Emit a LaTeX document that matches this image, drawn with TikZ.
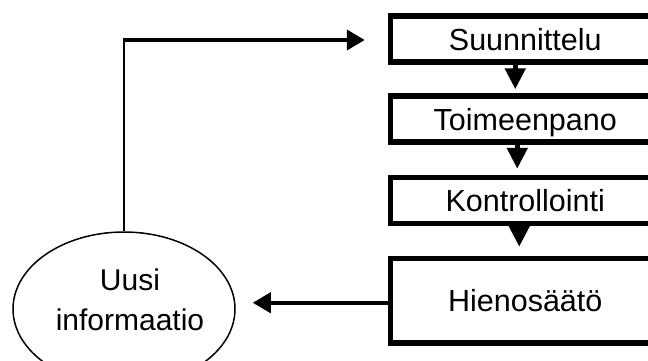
\documentclass[tikz,border=0pt]{standalone}
\usepackage{fontspec}
\setmainfont{Liberation Sans}
\usetikzlibrary{arrows.meta,shapes.geometric,calc}
\begin{document}
\begin{tikzpicture}[x=1pt,y=-1pt,
  stagebox/.style={draw,line width=5.5pt,minimum width=269.5pt,inner sep=0pt,anchor=north west,
    font=\fontsize{30.5}{36}\selectfont,text height=22pt,text depth=-1.5pt},
  downarrow/.style={line width=5pt,-{Triangle[length=21pt,width=20pt]}},
  sidearrow/.style={line width=4pt,-{Triangle[length=18pt,width=20pt]}},
  infoell/.style={draw,ellipse,line width=1.5pt,minimum width=222pt,minimum height=154pt,inner sep=0pt},
  infotext/.style={align=center,inner sep=0pt,anchor=north,font=\fontsize{30}{40}\selectfont}
]
\useasboundingbox (0,0) rectangle (648,360);
\clip (0,0) rectangle (648,360);
\fill[white] (0,0) rectangle (648,360);
% boxes
\node[stagebox,minimum height=46pt] (s1) at (387.75,13.25) {Suunnittelu};
\node[stagebox,minimum height=46pt] (s2) at (387.75,93.25) {Toimeenpano};
\node[stagebox,minimum height=46pt] (s3) at (387.75,174.75) {Kontrollointi};
\node[stagebox,minimum height=84.5pt] (s4) at (387.75,255.75) {Hienosäätö};
% ellipse
\node[infoell] (u) at (124,309) {};
\node[infotext] (ut) at (130,268.5) {Uusi\\informaatio};
% down arrows
\draw[downarrow] ([xshift=-10pt]s1.south) -- ([xshift=-10pt,yshift=4pt]s2.north);
\draw[downarrow] ([xshift=-8pt]s2.south) -- ([xshift=-8pt,yshift=6pt]s3.north);
\draw[downarrow] ([xshift=-6pt]s3.south) -- ([xshift=-6pt,yshift=9pt]s4.north);
% feedback
\draw[sidearrow,shorten >=17pt] ([yshift=-2pt]s4.west) -- ([yshift=-2pt]s4.west -| u.east);
\coordinate (c) at (124,40);
\draw[line width=1.5pt] (u.north) -- (c);
\draw[sidearrow,shorten >=23pt] ([xshift=-0.75pt]c) -- (c -| s1.west);
\end{tikzpicture}
\end{document}
